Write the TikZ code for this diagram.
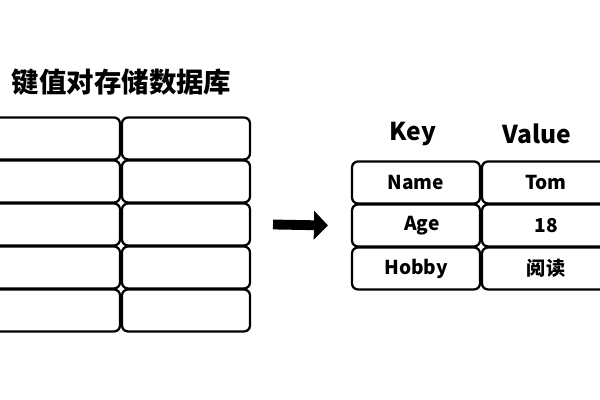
\documentclass[tikz,border=0pt]{standalone}
\usepackage{fontspec}
\setmainfont{Noto Sans CJK SC}
\usepackage{tikz}
\usetikzlibrary{arrows.meta, positioning}
\usepackage{xcolor}

\begin{document}
\begin{tikzpicture}[font=\bfseries,
  cell/.style={draw, line width=1.6pt, rounded corners=0.15cm, minimum width=3.2cm, minimum height=1.05cm, outer sep=0pt, inner sep=0pt, font=\fontsize{13.6}{15}\bfseries},
  header/.style={font=\fontsize{17.5}{19}\bfseries}]

\useasboundingbox (0,0) rectangle (15,10);
\clip (0,0) rectangle (15,10);
\fill[white] (0,0) rectangle (15,10);

\node[font=\fontsize{19.5}{22}\bfseries] (title) at (3.04,7.95) {键值对存储数据库};

\node[cell] (l1) at (1.4,6.5375) {};
\node[cell] (l2) at (1.4,5.4625) {};
\node[cell] (l3) at (1.4,4.3875) {};
\node[cell] (l4) at (1.4,3.3125) {};
\node[cell] (l5) at (1.4,2.2375) {};
\node[cell] (m1) at (4.65,6.5375) {};
\node[cell] (m2) at (4.65,5.4625) {};
\node[cell] (m3) at (4.65,4.3875) {};
\node[cell] (m4) at (4.65,3.3125) {};
\node[cell] (m5) at (4.65,2.2375) {};

\node[header] (key) at (10.325,6.65) {Key};
\node[header] (value) at (13.425,6.65) {Value};

\node[cell] (k1) at (10.4,5.4375) {Name};
\node[cell] (k2) at (10.4,4.3625) {\hspace{0.3cm}Age};
\node[cell] (k3) at (10.4,3.2875) {Hobby};
\node[cell] (v1) at (13.65,5.4375) {Tom};
\node[cell] (v2) at (13.65,4.3625) {18};
\node[cell] (v3) at (13.65,3.2875) {阅读};

\draw [line width=7pt, -{Triangle[length=10pt, width=20pt]}] ([xshift=0.575cm]m3.east) -- ([xshift=-0.6cm]k2.west);

\end{tikzpicture}
\end{document}
